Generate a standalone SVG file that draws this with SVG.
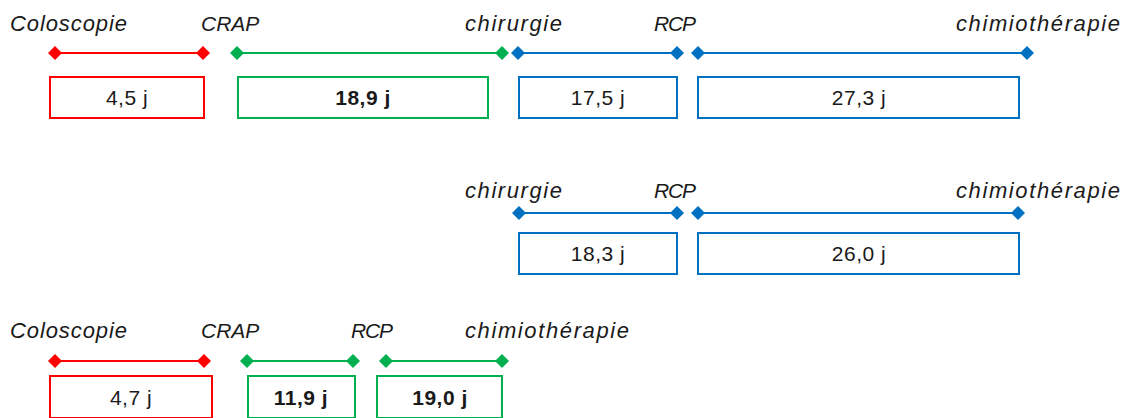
<svg xmlns="http://www.w3.org/2000/svg" width="1128" height="418" viewBox="0 0 1128 418">
<style>
.lbl{font-family:"Liberation Sans",Arial,sans-serif;font-style:italic;font-size:22px;fill:#1a1a1a}
.cap{font-size:21px}
.num{font-family:"Liberation Sans",Arial,sans-serif;font-size:21px;fill:#1a1a1a;text-anchor:middle;letter-spacing:0.5px}
.b{font-weight:bold}
.box{fill:#fff;stroke-width:2}
.r{stroke:#ff0000}
.g{stroke:#00b050}
.bl{stroke:#0070c0}
.seg{stroke-width:2;fill:none}
.seg.r{marker-start:url(#dr);marker-end:url(#dr)}
.seg.g{marker-start:url(#dg);marker-end:url(#dg)}
.seg.bl{marker-start:url(#db);marker-end:url(#db)}
</style>
<defs>
<marker id="dr" viewBox="-7 -7 14 14" refX="0" refY="0" markerWidth="14" markerHeight="14" markerUnits="userSpaceOnUse" orient="0"><path d="M0,-7L7,0L0,7L-7,0Z" fill="#ff0000"/></marker>
<marker id="dg" viewBox="-7 -7 14 14" refX="0" refY="0" markerWidth="14" markerHeight="14" markerUnits="userSpaceOnUse" orient="0"><path d="M0,-7L7,0L0,7L-7,0Z" fill="#00b050"/></marker>
<marker id="db" viewBox="-7 -7 14 14" refX="0" refY="0" markerWidth="14" markerHeight="14" markerUnits="userSpaceOnUse" orient="0"><path d="M0,-7L7,0L0,7L-7,0Z" fill="#0070c0"/></marker>
</defs>
<rect width="1128" height="418" fill="#fff"/>

<g id="labels-row1">
<text class="lbl" x="10" y="31" textLength="117">Coloscopie</text>
<text class="lbl cap" x="201" y="31">CRAP</text>
<text class="lbl" x="465" y="31" textLength="97">chirurgie</text>
<text class="lbl cap" x="654" y="31" textLength="42">RCP</text>
<text class="lbl" x="956" y="31" textLength="164">chimiothérapie</text>
</g>
<g id="labels-row2">
<text class="lbl" x="465" y="198" textLength="97">chirurgie</text>
<text class="lbl cap" x="654" y="198" textLength="42">RCP</text>
<text class="lbl" x="956" y="198" textLength="164">chimiothérapie</text>
</g>
<g id="labels-row3">
<text class="lbl" x="10" y="338" textLength="117">Coloscopie</text>
<text class="lbl cap" x="201" y="338">CRAP</text>
<text class="lbl cap" x="351" y="338" textLength="42">RCP</text>
<text class="lbl" x="465" y="338" textLength="164">chimiothérapie</text>
</g>

<g id="connectors">
<line class="seg r" x1="55" y1="53" x2="203" y2="53"/>
<line class="seg g" x1="237" y1="53" x2="502" y2="53"/>
<line class="seg bl" x1="518" y1="53" x2="677" y2="53"/>
<line class="seg bl" x1="698" y1="53" x2="1027" y2="53"/>
<line class="seg bl" x1="519" y1="213" x2="677" y2="213"/>
<line class="seg bl" x1="698" y1="213" x2="1018" y2="213"/>
<line class="seg r" x1="55" y1="361" x2="204" y2="361"/>
<line class="seg g" x1="247" y1="361" x2="353" y2="361"/>
<line class="seg g" x1="386" y1="361" x2="502" y2="361"/>
</g>

<g id="box-r1-1"><rect class="box r" x="50" y="77" width="154" height="41"/><text class="num" x="127" y="105">4,5 j</text></g>
<g id="box-r1-2"><rect class="box g" x="238" y="77" width="250" height="41"/><text class="num b" x="363" y="105">18,9 j</text></g>
<g id="box-r1-3"><rect class="box bl" x="519" y="77" width="158" height="41"/><text class="num" x="598" y="105">17,5 j</text></g>
<g id="box-r1-4"><rect class="box bl" x="698" y="77" width="321" height="41"/><text class="num" x="859" y="105">27,3 j</text></g>

<g id="box-r2-1"><rect class="box bl" x="519" y="233" width="158" height="41"/><text class="num" x="598" y="261">18,3 j</text></g>
<g id="box-r2-2"><rect class="box bl" x="698" y="233" width="321" height="41"/><text class="num" x="859" y="261">26,0 j</text></g>

<g id="box-r3-1"><rect class="box r" x="50" y="376" width="162" height="42"/><text class="num" x="131" y="405">4,7 j</text></g>
<g id="box-r3-2"><rect class="box g" x="248" y="376" width="107" height="42"/><text class="num b" x="301" y="405">11,9 j</text></g>
<g id="box-r3-3"><rect class="box g" x="377" y="376" width="125" height="42"/><text class="num b" x="440" y="405">19,0 j</text></g>
</svg>
